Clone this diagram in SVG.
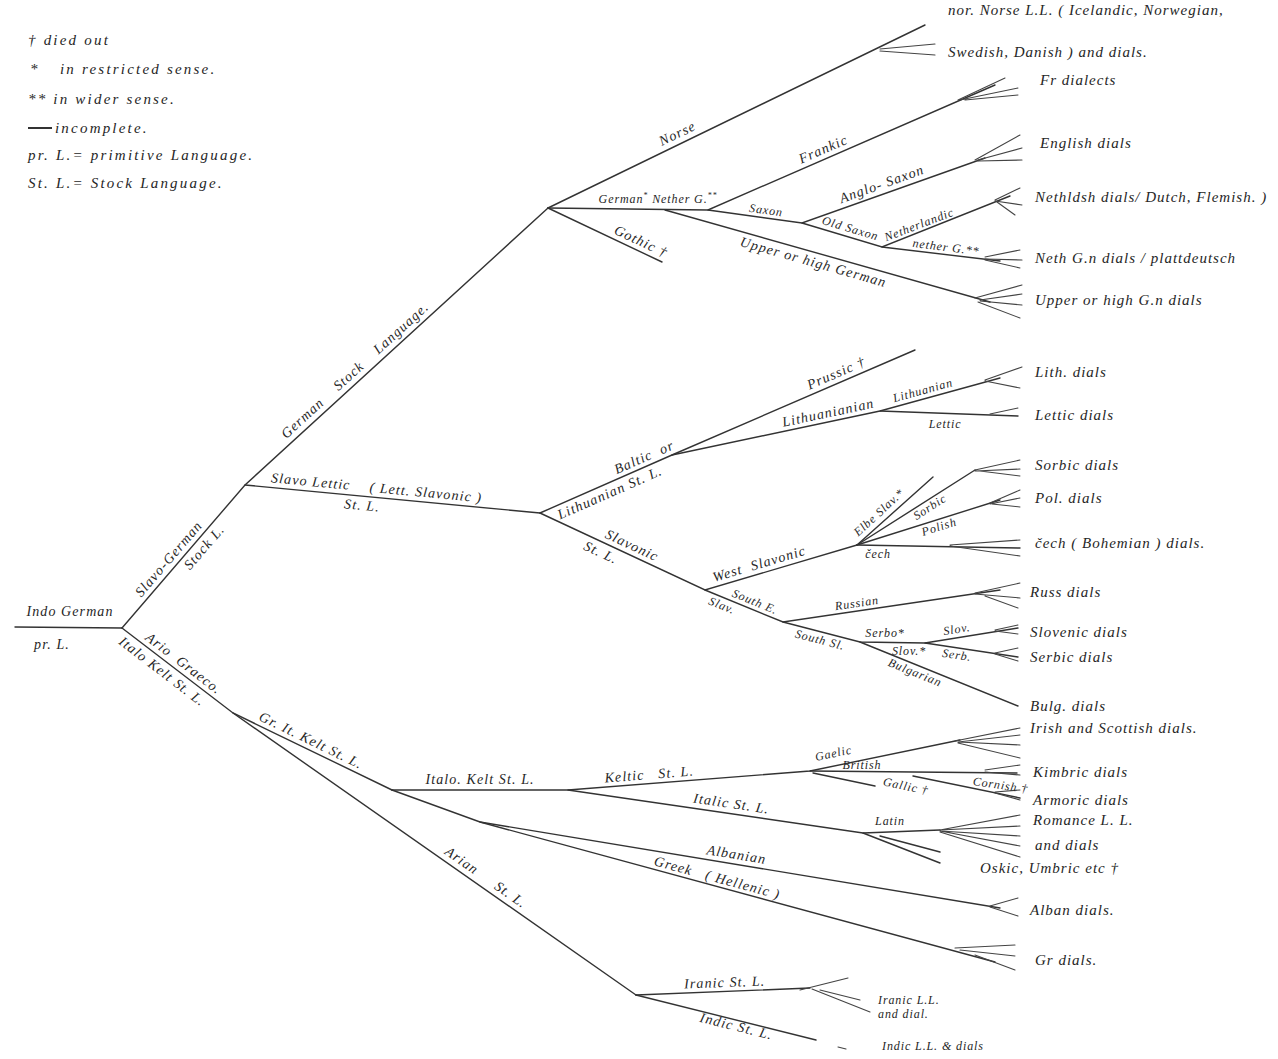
<svg xmlns="http://www.w3.org/2000/svg" width="1278" height="1059" viewBox="0 0 1278 1059">
<style>
.e{stroke:#333333;stroke-width:1.4;fill:none;stroke-linecap:round}
.f{stroke:#444444;stroke-width:1.1;fill:none;stroke-linecap:round}
text{font-family:"Liberation Serif","DejaVu Serif",serif;font-style:italic;fill:#262626;white-space:pre}
.t{font-size:14px;letter-spacing:1.1px}
.r{font-size:15px;letter-spacing:1px}
.s{font-size:12px;letter-spacing:0.9px}
.m{text-anchor:middle}
.l{font-size:15px;letter-spacing:2.2px}
</style>
<rect width="1278" height="1059" fill="#ffffff"/>

<g id="legend" class="l">
<text x="28" y="45">† died out</text>
<text x="30" y="74">*</text>
<text x="60" y="74">in restricted sense.</text>
<text x="28" y="104">** in wider sense.</text>
<line x1="28" y1="128" x2="52" y2="128" stroke="#333" stroke-width="2"/>
<text x="55" y="133">incomplete.</text>
<text x="28" y="160">pr. L.= primitive Language.</text>
<text x="28" y="188">St. L.= Stock Language.</text>
</g>

<g id="connectors">
<path class="e" d="M15,627 L122,628" stroke-width="2.2"/>
<path class="e" d="M122,628 L245,485 L548,208"/>
<path class="e" d="M245,485 L540,513"/>
<path class="e" d="M122,628 L233,713 L392,790"/>
<path class="e" d="M233,713 L636,995"/>
<path class="e" d="M636,995 L810,988"/>
<path class="e" d="M636,995 L816,1040"/>
<path class="f" d="M838,1047 L846,1049"/>
<path class="f" d="M800,990 L848,978 M812,989 L870,1012 M820,990 L860,1000"/>
<path class="e" d="M392,790 L568,790 L810,771 L960,740"/>
<path class="e" d="M810,771 L1017,773"/>
<path class="e" d="M813,773 L875,786"/>
<path class="e" d="M913,776 L1020,798"/>
<path class="e" d="M568,790 L863,833 L940,830"/>
<path class="e" d="M863,833 L940,863 M880,836 L940,852"/>
<path class="e" d="M392,790 L480,822 L1000,908"/>
<path class="e" d="M480,822 L995,962"/>
<path class="f" d="M955,741 L1020,728 M958,742 L1020,735 M958,742 L1020,745 M958,743 L1020,758"/>
<path class="f" d="M985,770 L1020,765 M985,772 L1020,775"/>
<path class="f" d="M995,792 L1020,790 M995,793 L1020,800"/>
<path class="f" d="M940,830 L1020,815 M940,830 L1020,826 M940,831 L1020,836 M940,831 L1020,846 M940,832 L1020,857"/>
<path class="f" d="M990,906 L1018,898 M990,907 L1018,916"/>
<path class="f" d="M955,948 L1015,945 M960,950 L1015,956 M975,955 L1015,970"/>

<path class="e" d="M548,208 L708,210 L995,85"/>
<path class="e" d="M548,208 L662,262"/>
<path class="e" d="M548,208 L925,25"/>
<path class="f" d="M880,49 L935,44 M880,51 L935,55"/>
<path class="f" d="M958,100 L1005,78 M960,100 L1018,88 M965,100 L1018,95"/>
<path class="e" d="M708,210 L802,223 L985,158"/>
<path class="f" d="M975,160 L1020,135 M978,160 L1022,148 M978,161 L1022,160"/>
<path class="e" d="M802,223 L882,247 L1010,196"/>
<path class="f" d="M995,200 L1020,188 M995,201 L1022,205 M997,202 L1015,215"/>
<path class="e" d="M882,247 L1000,261"/>
<path class="f" d="M985,257 L1020,250 M985,259 L1022,260 M985,260 L1020,268"/>
<path class="e" d="M665,210 L990,302"/>
<path class="f" d="M975,298 L1022,285 M980,300 L1022,294 M980,301 L1022,305 M978,302 L1020,318"/>

<path class="e" d="M540,513 L672,455 L915,350"/>
<path class="e" d="M672,455 L880,411 L1000,378"/>
<path class="f" d="M985,380 L1022,367 M985,381 L1020,388"/>
<path class="e" d="M880,411 L1018,416"/>
<path class="f" d="M990,414 L1018,408"/>
<path class="e" d="M540,513 L705,590 L857,545"/>
<path class="e" d="M857,545 L933,477"/>
<path class="e" d="M857,545 L975,470"/>
<path class="f" d="M975,470 L1020,460 M975,471 L1020,469 M980,471 L1020,476"/>
<path class="e" d="M857,545 L1000,500"/>
<path class="f" d="M990,503 L1020,490 M990,504 L1020,498 M992,504 L1020,507"/>
<path class="e" d="M857,545 L1020,548"/>
<path class="f" d="M950,545 L1020,540 M950,546 L1020,556"/>
<path class="e" d="M705,590 L783,622 L1000,590"/>
<path class="f" d="M975,593 L1020,583 M975,594 L1020,598 M985,596 L1018,608"/>
<path class="e" d="M783,622 L860,642 L925,643 L1018,628"/>
<path class="f" d="M995,630 L1018,625 M995,631 L1018,634"/>
<path class="e" d="M925,643 L1018,657"/>
<path class="f" d="M995,653 L1018,648 M995,654 L1018,661"/>
<path class="e" d="M860,642 L1018,706"/>
</g>

<g id="n-indo" class="t"><text x="70" y="616" class="m">Indo German</text><text x="52" y="649" class="m">pr. L.</text></g>
<g id="n-slavogerman" class="t"><text class="m" transform="translate(176,565) rotate(-49.3)" y="-5">Slavo-German</text><text class="m" transform="translate(197,541) rotate(-49.3)" y="14">Stock L.</text></g>
<g id="n-germanstock" class="t"><text class="m" transform="translate(362,378) rotate(-42.4)" y="-6">German    Stock    Language.</text></g>
<g id="n-slavolettic" class="t"><text class="m" transform="translate(310,491) rotate(5.4)" y="-5">Slavo Lettic</text><text class="m" transform="translate(425,502) rotate(5.4)" y="-5">( Lett. Slavonic )</text><text class="m" transform="translate(363,496) rotate(5.4)" y="14">St. L.</text></g>
<g id="n-ariograeco" class="t"><text class="m" transform="translate(178,671) rotate(37.4)" y="-5">Ario  Graeco.</text><text class="m" transform="translate(168,664) rotate(37.4)" y="14">Italo Kelt St. L.</text></g>
<g id="n-gritkelt" class="t"><text class="m" transform="translate(307,749) rotate(25.8)" y="-5">Gr. It. Kelt St. L.</text></g>
<g id="n-arian" class="t"><text class="m" transform="translate(480,886) rotate(35)" y="-6">Arian     St. L.</text></g>
<g id="n-iranic" class="t"><text class="m" transform="translate(725,991) rotate(-2)" y="-4">Iranic St. L.</text><text x="878" y="1004" class="s">Iranic L.L.</text><text x="878" y="1018" class="s">and dial.</text></g>
<g id="n-indic" class="t"><text class="m" transform="translate(738,1020) rotate(14)" y="11">Indic St. L.</text><text x="882" y="1050" class="s">Indic L.L. &amp; dials</text></g>
<g id="n-italokelt" class="t"><text x="480" y="784" class="m">Italo. Kelt St. L.</text></g>
<g id="n-keltic" class="t"><text class="m" transform="translate(650,784) rotate(-4.5)" y="-5">Keltic   St. L.</text></g>
<g id="n-italic" class="t"><text class="m" transform="translate(730,813) rotate(8.3)" y="-5">Italic St. L.</text></g>
<g id="n-gaelic" class="s"><text class="m" transform="translate(836,766) rotate(-11.7)" y="-9">Gaelic</text></g>
<g id="n-british" class="s"><text x="862" y="769" class="m">British</text></g>
<g id="n-gallic" class="s"><text class="m" transform="translate(905,790) rotate(12)">Gallic †</text></g>
<g id="n-cornish" class="s"><text class="m" transform="translate(1000,789) rotate(8)">Cornish †</text></g>
<g id="n-latin" class="s"><text x="890" y="825" class="m">Latin</text></g>
<g id="n-albanian" class="t"><text class="m" transform="translate(735,864) rotate(9.4)" y="-5">Albanian</text></g>
<g id="n-greek" class="t"><text class="m" transform="translate(715,886) rotate(15.2)" y="-4">Greek   ( Hellenic )</text></g>

<g id="n-norse" class="t"><text class="m" transform="translate(682,143) rotate(-25.9)" y="-6">Norse</text></g>
<g id="n-gothic" class="t"><text class="m" transform="translate(637,250) rotate(25.3)" y="-5">Gothic †</text></g>
<g id="n-german" class="s"><text x="658" y="203" class="m">German<tspan font-size="8" dy="-5">*</tspan><tspan dy="5"> Nether G.</tspan><tspan font-size="8" dy="-5">**</tspan></text></g>
<g id="n-frankic" class="t"><text class="m" transform="translate(827,158) rotate(-23.5)" y="-5">Frankic</text></g>
<g id="n-saxon" class="s"><text class="m" transform="translate(765,218) rotate(7.9)" y="-4">Saxon</text></g>
<g id="n-anglosaxon" class="t"><text class="m" transform="translate(885,193) rotate(-19.6)" y="-5">Anglo- Saxon</text></g>
<g id="n-oldsaxon" class="s"><text class="m" transform="translate(848,236) rotate(16.7)" y="-4">Old Saxon</text></g>
<g id="n-netherlandic" class="s"><text class="m" transform="translate(922,232) rotate(-20.9)" y="-4">Netherlandic</text></g>
<g id="n-netherg" class="s"><text class="m" transform="translate(945,255) rotate(7.2)" y="-4">nether G.**</text></g>
<g id="n-upper" class="t"><text class="m" transform="translate(816,253) rotate(15.8)" y="14">Upper or high German</text></g>

<g id="n-baltic" class="t"><text class="m" transform="translate(648,466) rotate(-23.7)" y="-5">Baltic  or</text><text class="m" transform="translate(606,484) rotate(-23.7)" y="14">Lithuanian St. L.</text></g>
<g id="n-prussic" class="t"><text class="m" transform="translate(840,382) rotate(-23.4)" y="-5">Prussic †</text></g>
<g id="n-lithuanianian" class="t"><text class="m" transform="translate(830,421) rotate(-11.9)" y="-4">Lithuanianian</text></g>
<g id="n-lithuanian" class="s"><text class="m" transform="translate(925,398) rotate(-15.4)" y="-4">Lithuanian</text></g>
<g id="n-lettic" class="s"><text x="945" y="428" class="m">Lettic</text></g>
<g id="n-slavonic" class="t"><text class="m" transform="translate(628,554) rotate(25)" y="-5">Slavonic</text><text class="m" transform="translate(605,544) rotate(25)" y="14">St. L.</text></g>
<g id="n-westslav" class="t"><text class="m" transform="translate(762,573) rotate(-16.5)" y="-5">West  Slavonic</text></g>
<g id="n-elbe" class="s"><text class="m" transform="translate(885,519) rotate(-42.6)" y="-5">Elbe Slav.*</text></g>
<g id="n-sorbic" class="s"><text class="m" transform="translate(926,501) rotate(-32.4)" y="11">Sorbic</text></g>
<g id="n-polish" class="s"><text class="m" transform="translate(937,520) rotate(-17.4)" y="11">Polish</text></g>
<g id="n-cech" class="s"><text x="878" y="558" class="m">čech</text></g>
<g id="n-southe" class="s"><text class="m" transform="translate(752,609) rotate(22.3)" y="-4">South E.</text><text class="m" transform="translate(725,598) rotate(22.3)" y="12">Slav.</text></g>
<g id="n-russian" class="s"><text class="m" transform="translate(858,611) rotate(-8.4)" y="-4">Russian</text></g>
<g id="n-southsl" class="s"><text class="m" transform="translate(822,632) rotate(14.6)" y="12">South Sl.</text></g>
<g id="n-serbo" class="s"><text x="885" y="637" class="m">Serbo*</text><text x="909" y="655" class="m">Slov.*</text></g>
<g id="n-slov" class="s"><text class="m" transform="translate(958,637) rotate(-9)" y="-4">Slov.</text></g>
<g id="n-serb" class="s"><text class="m" transform="translate(958,648) rotate(8.6)" y="11">Serb.</text></g>
<g id="n-bulgarian" class="s"><text class="m" transform="translate(918,665) rotate(22)" y="12">Bulgarian</text></g>

<g id="leaves" class="r">
<text x="948" y="15">nor. Norse L.L. ( Icelandic, Norwegian,</text>
<text x="948" y="57">Swedish, Danish ) and dials.</text>
<text x="1040" y="85">Fr dialects</text>
<text x="1040" y="148">English dials</text>
<text x="1035" y="202">Nethldsh dials/ Dutch, Flemish. )</text>
<text x="1035" y="263">Neth G.n dials / plattdeutsch</text>
<text x="1035" y="305">Upper or high G.n dials</text>
<text x="1035" y="377">Lith. dials</text>
<text x="1035" y="420">Lettic dials</text>
<text x="1035" y="470">Sorbic dials</text>
<text x="1035" y="503">Pol. dials</text>
<text x="1035" y="548">čech ( Bohemian ) dials.</text>
<text x="1030" y="597">Russ dials</text>
<text x="1030" y="637">Slovenic dials</text>
<text x="1030" y="662">Serbic dials</text>
<text x="1030" y="711">Bulg. dials</text>
<text x="1030" y="733">Irish and Scottish dials.</text>
<text x="1033" y="777">Kimbric dials</text>
<text x="1033" y="805">Armoric dials</text>
<text x="1033" y="825">Romance L. L.</text>
<text x="1035" y="850">and dials</text>
<text x="980" y="873">Oskic, Umbric etc †</text>
<text x="1030" y="915">Alban dials.</text>
<text x="1035" y="965">Gr dials.</text>
</g>
</svg>
